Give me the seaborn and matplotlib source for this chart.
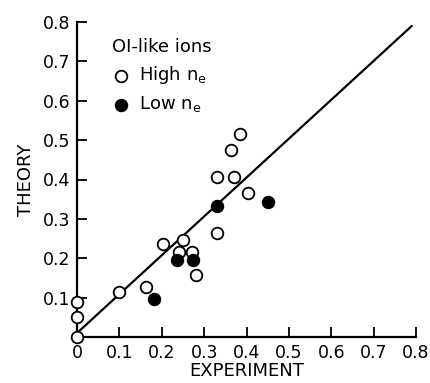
import matplotlib
matplotlib.use("Agg")
import matplotlib.pyplot as plt
import seaborn as sns
import pandas as pd

sns.set_style("ticks")
plt.rcParams['font.family'] = ['DejaVu Sans']
plt.rcParams['mathtext.fontset'] = 'dejavusans'
plt.rcParams['text.color'] = 'black'
plt.rcParams['axes.labelcolor'] = 'black'

high_x = [0.0, 0.0, 0.0, 0.10, 0.163, 0.28, 0.203, 0.25, 0.24, 0.271, 0.33, 0.33, 0.37, 0.363, 0.384, 0.403]
high_y = [0.0, 0.051, 0.09, 0.115, 0.127, 0.157, 0.236, 0.246, 0.216, 0.216, 0.264, 0.406, 0.406, 0.475, 0.515, 0.366]
low_x = [0.33, 0.236, 0.274, 0.182, 0.45]
low_y = [0.332, 0.195, 0.195, 0.096, 0.343]
line_x = [0.0, 0.79]
line_y = [0.01, 0.79]
ticks = [0.1, 0.2, 0.3, 0.4, 0.5, 0.6, 0.7, 0.8]
xtick_labels = ["0", "0.1", "0.2", "0.3", "0.4", "0.5", "0.6", "0.7", "0.8"]
ytick_labels = ["0.1", "0.2", "0.3", "0.4", "0.5", "0.6", "0.7", "0.8"]

high = pd.DataFrame({"x": high_x, "y": high_y})
low = pd.DataFrame({"x": low_x, "y": low_y})

fig = plt.figure(figsize=(4.30, 3.83), dpi=100)
ax = fig.add_axes([77/430, 1-337/383, (416-77)/430, (337-22)/383])

sns.lineplot(x=line_x, y=line_y, ax=ax, color="black", linewidth=1.6, zorder=1)
sns.scatterplot(data=high, x="x", y="y", ax=ax, marker="o", s=70, facecolor="white",
                edgecolor="black", linewidth=1.3, zorder=3, label=r"High $\mathregular{n_e}$", clip_on=False)
sns.scatterplot(data=low, x="x", y="y", ax=ax, marker="o", s=70, color="black",
                edgecolor="black", linewidth=1.3, zorder=3, label=r"Low $\mathregular{n_e}$", clip_on=False)

ax.set_xlim(0, 0.8)
ax.set_ylim(0, 0.8)
ax.set_xticks([0.0] + ticks)
ax.set_xticklabels(xtick_labels)
ax.set_yticks(ticks)
ax.set_yticklabels(ytick_labels)
ax.tick_params(direction="in", length=7, width=1.3, labelsize=12.5, colors="black", pad=5)
ax.tick_params(axis="x", pad=5)
for s in ["top", "right"]:
    ax.spines[s].set_visible(False)
for s in ["left", "bottom"]:
    ax.spines[s].set_linewidth(1.6)
    ax.spines[s].set_color("black")

ax.set_xlabel("EXPERIMENT", fontsize=13, labelpad=0)
ax.set_ylabel("THEORY", fontsize=13, labelpad=5)

leg = ax.legend(title="OI-like ions", loc="upper left", bbox_to_anchor=(0.055, 1.0),
                frameon=False, fontsize=13, title_fontsize=13, handletextpad=0.5,
                handlelength=1.0, labelspacing=0.45, alignment="left")

fig.savefig("out.png", dpi=100, facecolor="white")
